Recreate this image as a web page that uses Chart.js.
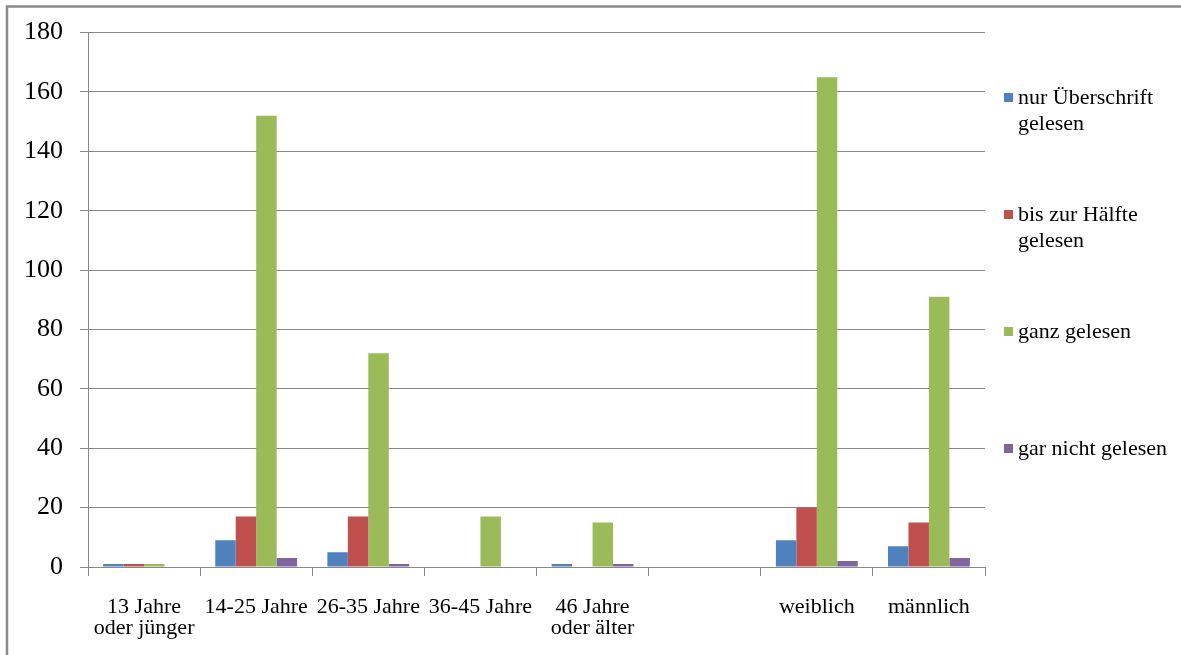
<!DOCTYPE html>
<html>
<head>
<meta charset="utf-8">
<script src="https://cdn.jsdelivr.net/npm/chart.js@4"></script>
<style>
  html, body { margin: 0; padding: 0; background: #fff; }
  #wrap { width: 1181px; height: 655px; position: relative; }
</style>
</head>
<body>
<div id="wrap"><canvas id="readChart"></canvas></div>
<script>
// Categories on the x axis (multi-line labels as arrays, one empty gap slot)
const categories = [
    ['13 Jahre', 'oder jünger'],
    '14-25 Jahre',
    '26-35 Jahre',
    '36-45 Jahre',
    ['46 Jahre', 'oder älter'],
    '',
    'weiblich',
    'männlich',
];

// Series values
const nurUeberschrift = [1, 9, 5, 0, 1, 0, 9, 7];
const bisZurHaelfte   = [1, 17, 17, 0, 0, 0, 20, 15];
const ganzGelesen     = [1, 152, 72, 17, 15, 0, 165, 91];
const garNicht        = [0, 3, 1, 0, 1, 0, 2, 3];

// Legend labels (wrapped like the original)
const seriesNames = [
    ['nur Überschrift', 'gelesen'],
    ['bis zur Hälfte', 'gelesen'],
    ['ganz gelesen'],
    ['gar nicht gelesen'],
];

const yTicksMax = 180;
const yTicksStep = 20;

const colors = ['#4F81BD', '#C0504D', '#9BBB59', '#8064A2'];
const serif = "'Liberation Serif', 'Times New Roman', serif";

Chart.defaults.font.family = serif;
Chart.defaults.color = '#000';

// white background + grey frame of the pasted chart
const framePlugin = {
    id: 'frame',
    beforeDraw: (chart) => {
        const ctx = chart.ctx;
        ctx.save();
        ctx.fillStyle = '#fff';
        ctx.fillRect(0, 0, chart.width, chart.height);
        ctx.strokeStyle = '#8a8a8a';
        ctx.lineWidth = 2.5;
        ctx.beginPath();
        ctx.moveTo(7, chart.height);
        ctx.lineTo(7, 6.5);
        ctx.lineTo(chart.width, 6.5);
        ctx.stroke();
        ctx.restore();
    }
};

// Legend on the right, drawn by hand so the labels can wrap
const legendPlugin = {
    id: 'wrapLegend',
    afterDraw: (chart) => {
        const ctx = chart.ctx;
        const x = chart.chartArea.right + 19;
        let y = 98;
        ctx.save();
        ctx.font = '22px ' + serif;
        ctx.textBaseline = 'middle';
        ctx.textAlign = 'left';
        chart.data.datasets.forEach((ds, i) => {
            ctx.fillStyle = ds.backgroundColor;
            ctx.fillRect(x, y - 5, 9, 9);
            ctx.fillStyle = '#000';
            seriesNames[i].forEach((line, j) => {
                ctx.fillText(line, x + 14, y + j * 26);
            });
            y += 117;
        });
        ctx.restore();
    }
};

const readChart = new Chart(document.getElementById('readChart').getContext('2d'), {
    type: 'bar',
    data: {
        labels: categories,
        datasets: [
            { label: seriesNames[0].join(' '), data: nurUeberschrift, backgroundColor: colors[0] },
            { label: seriesNames[1].join(' '), data: bisZurHaelfte, backgroundColor: colors[1] },
            { label: seriesNames[2].join(' '), data: ganzGelesen, backgroundColor: colors[2] },
            { label: seriesNames[3].join(' '), data: garNicht, backgroundColor: colors[3] },
        ]
    },
    options: {
        responsive: true,
        maintainAspectRatio: false,
        animation: false,
        categoryPercentage: 0.73,
        barPercentage: 1.0,
        layout: {
            padding: { left: 0, top: 32, right: 196, bottom: 0 }
        },
        plugins: {
            legend: { display: false },
            tooltip: { enabled: false },
        },
        scales: {
            x: {
                afterFit: (scale) => { scale.height = 88; },
                grid: {
                    drawOnChartArea: false,
                    drawTicks: true,
                    tickLength: 9,
                    color: '#888',
                },
                border: { color: '#888' },
                ticks: {
                    font: { size: 22, lineHeight: 0.96 },
                    padding: 21,
                    maxRotation: 0,
                    autoSkip: false,
                }
            },
            y: {
                min: 0,
                max: yTicksMax,
                afterFit: (scale) => { scale.width = 88; },
                grid: {
                    color: '#888',
                    tickLength: 8,
                },
                border: { color: '#888' },
                ticks: {
                    stepSize: yTicksStep,
                    font: { size: 26 },
                    padding: 17,
                }
            }
        }
    },
    plugins: [framePlugin, legendPlugin]
});
</script>
</body>
</html>
